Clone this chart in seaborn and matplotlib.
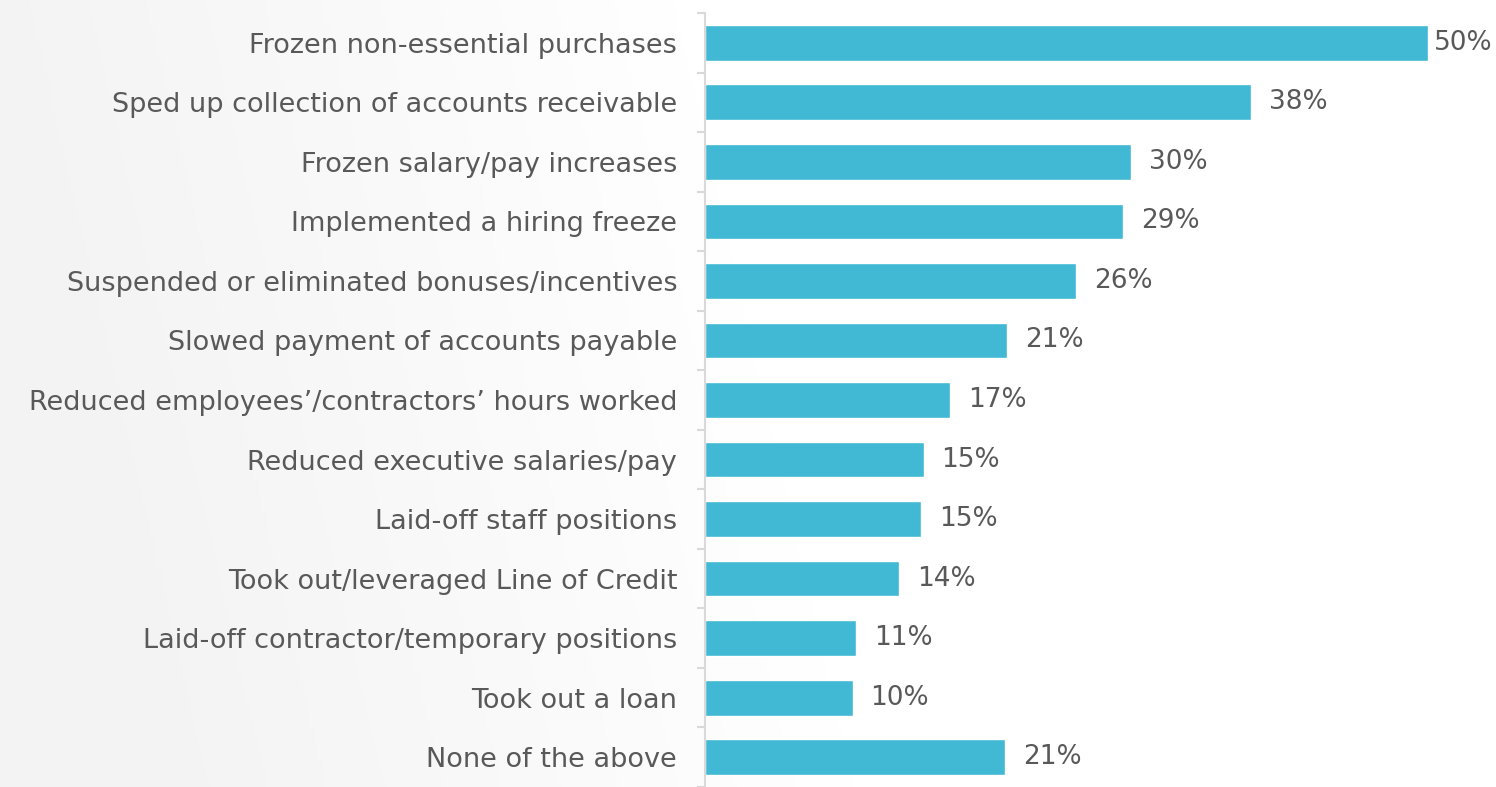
import numpy as np
import pandas as pd
import matplotlib
matplotlib.use("Agg")
import matplotlib.pyplot as plt
import seaborn as sns

categories = [
    "Frozen non-essential purchases",
    "Sped up collection of accounts receivable",
    "Frozen salary/pay increases",
    "Implemented a hiring freeze",
    "Suspended or eliminated bonuses/incentives",
    "Slowed payment of accounts payable",
    "Reduced employees\u2019/contractors\u2019 hours worked",
    "Reduced executive salaries/pay",
    "Laid-off staff positions",
    "Took out/leveraged Line of Credit",
    "Laid-off contractor/temporary positions",
    "Took out a loan",
    "None of the above",
]
# bar lengths (percent)
values = [50.45, 38.1, 29.7, 29.15, 25.9, 21.08, 17.1, 15.25, 15.1, 13.52, 10.52, 10.3, 20.95]
value_labels = ["50%", "38%", "30%", "29%", "26%", "21%", "17%", "15%", "15%", "14%", "11%", "10%", "21%"]

df = pd.DataFrame({"category": categories, "value": values})

sns.set_theme(style="white")
plt.rcParams["font.family"] = ["DejaVu Sans"]

W, H = 1496, 787
fig = plt.figure(figsize=(W / 100, H / 100), dpi=100)

# background gradient (light grey on the left fading to white)
bg = fig.add_axes([0, 0, 1, 1], zorder=-10)
xx = np.linspace(0, 1, 400)
yy = np.linspace(0, 1, 200)
X, Y = np.meshgrid(xx, yy)
g = np.clip((X - (1 - Y) * 0.12) / 0.45, 0, 1)
shade = 0.955 + 0.045 * g
img = np.dstack([shade, shade, shade])
bg.imshow(img, aspect="auto", extent=[0, 1, 0, 1], origin="lower")
bg.axis("off")

left = 705 / W
top_px, bot_px = 13, 787
ax = fig.add_axes([left, 1 - bot_px / H, 1 - left, (bot_px - top_px) / H])
ax.patch.set_alpha(0)

sns.barplot(data=df, y="category", x="value", orient="h", color="#41B9D4",
            saturation=1, width=0.6, ax=ax)

ax.set_xlim(0, 55.2)
ax.set_ylim(12.4, -0.5)
ax.set_xlabel("")
ax.set_ylabel("")
ax.set_xticks([])
for s in ["top", "right", "bottom"]:
    ax.spines[s].set_visible(False)
ax.spines["left"].set_color("#D9D9D9")
ax.spines["left"].set_linewidth(1.5)

ax.tick_params(axis="y", which="major", length=0, pad=20, labelsize=19.5, labelcolor="#595959")
ax.set_yticks(np.arange(-0.5, len(categories), 1.0), minor=True)
ax.tick_params(axis="y", which="minor", length=6, width=1.5, color="#D9D9D9", direction="out", left=True)

for i, (v, lab) in enumerate(zip(values, value_labels)):
    off = 6 if v == max(values) else 18
    ax.annotate(lab, xy=(v, i), xytext=(off, 0), textcoords="offset pixels",
                va="center", ha="left", fontsize=19, color="#595959")

fig.savefig("out.png", dpi=100)
